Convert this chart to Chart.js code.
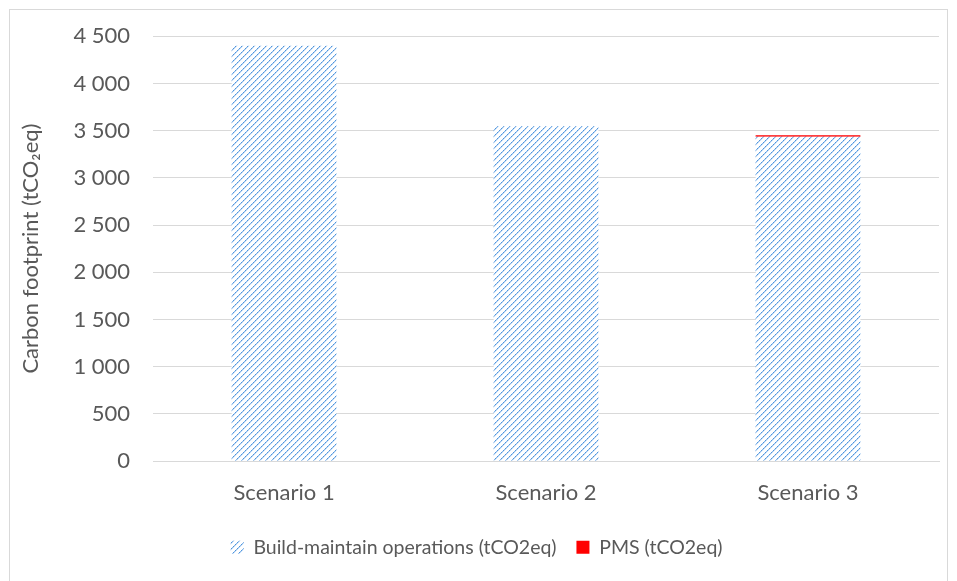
<!DOCTYPE html>
<html>
<head>
<meta charset="utf-8">
<script src="https://cdn.jsdelivr.net/npm/chart.js@4"></script>
<style>
  body { margin: 0; background: #fff; }
  #wrap { width: 957px; height: 581px; }
</style>
</head>
<body>
<div id="wrap"><canvas id="graph1" width="957" height="581"></canvas></div>
<script>
const labels = ['Scenario 1', 'Scenario 2', 'Scenario 3'];
const buildMaintain = [4400, 3545, 3436];
const pms = [0, 0, 14];
const yTicks = [0, 500, 1000, 1500, 2000, 2500, 3000, 3500, 4000, 4500];

// hatched fill, upward diagonal like the office pattern
function hatch() {
    const n = 6;
    const c = document.createElement('canvas');
    c.width = n; c.height = n;
    const g = c.getContext('2d');
    g.fillStyle = '#ffffff';
    g.fillRect(0, 0, n, n);
    for (let i = 0; i < n; i++) {
        const y = n - 1 - i;
        g.fillStyle = i % 2 ? '#4f95dc' : '#82b5ea';
        g.fillRect(i, y, 1, 1);
        g.fillStyle = '#c6ddf6';
        g.fillRect((i + 1) % n, y, 1, 1);
    }
    return g.createPattern(c, 'repeat');
}

const frame = {
    id: 'frame',
    beforeDraw(chart) {
        const ctx = chart.ctx;
        ctx.save();
        ctx.fillStyle = '#fff';
        ctx.fillRect(0, 0, chart.width, chart.height);
        ctx.strokeStyle = '#d9d9d9';
        ctx.lineWidth = 1;
        ctx.strokeRect(9.5, 9.5, 938, 590);
        ctx.restore();
    }
};

Chart.defaults.font.family = 'Lato, "Open Sans", sans-serif';
Chart.defaults.color = '#595959';

new Chart(document.querySelector('#graph1'), {
    type: 'bar',
    data: {
        labels: labels,
        datasets: [{
            label: 'Build-maintain operations (tCO2eq)',
            data: buildMaintain,
            backgroundColor: hatch(),
            borderWidth: 0,
            barPercentage: 0.4,
            categoryPercentage: 1
        }, {
            label: 'PMS (tCO2eq)',
            data: pms,
            backgroundColor: '#ff0000',
            borderWidth: 0,
            barPercentage: 0.4,
            categoryPercentage: 1
        }]
    },
    options: {
        responsive: false,
        animation: false,
        layout: { padding: { left: 14, right: 18, top: 30, bottom: 14 } },
        plugins: {
            legend: {
                position: 'bottom',
                labels: { boxWidth: 13, boxHeight: 13, padding: 20, font: { size: 19.5 } }
            },
            tooltip: { enabled: false }
        },
        scales: {
            x: {
                stacked: true,
                grid: { display: false },
                border: { color: '#d9d9d9' },
                ticks: { font: { size: 22 }, padding: 11 }
            },
            y: {
                stacked: true,
                min: 0,
                max: 4500,
                afterBuildTicks(axis) { axis.ticks = yTicks.map(v => ({ value: v })); },
                grid: { color: '#d9d9d9', drawTicks: false },
                border: { display: false },
                ticks: {
                    font: { size: 22 },
                    padding: 23,
                    callback: v => v.toLocaleString('en-US').replace(/,/g, ' ')
                },
                title: {
                    display: true,
                    text: 'Carbon footprint (tCO₂eq)',
                    font: { size: 22 },
                    padding: { bottom: 6 }
                }
            }
        }
    },
    plugins: [frame]
});
</script>
</body>
</html>
